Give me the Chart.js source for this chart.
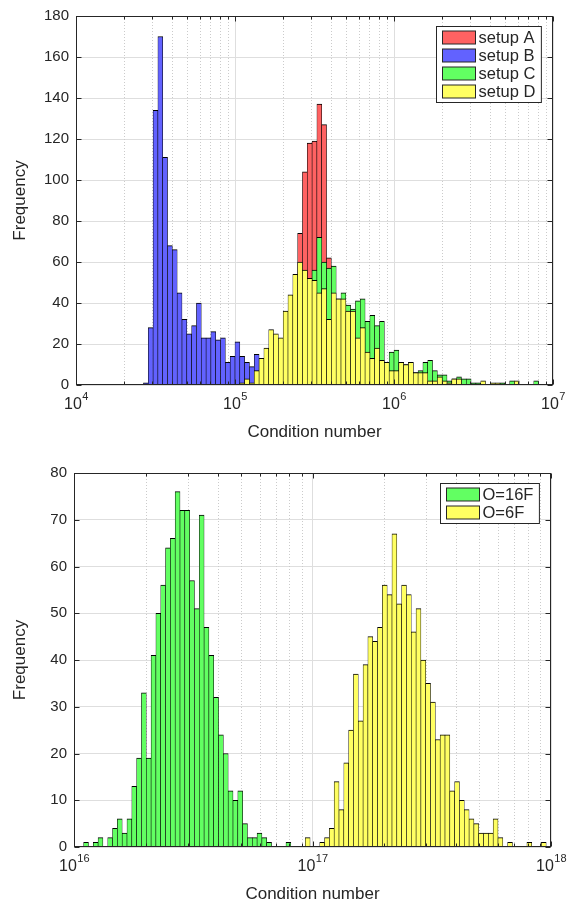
<!DOCTYPE html>
<html>
<head>
<meta charset="utf-8">
<script src="https://cdn.jsdelivr.net/npm/chart.js@4.4.1/dist/chart.umd.min.js"></script>
<style>
  body { margin: 0; background: #fff; }
  .panel { position: absolute; left: 0; width: 585px; height: 451px; }
  canvas { display: block; }
</style>
</head>
<body>
<div class="panel" style="top:0"><canvas id="topChart" width="585" height="451"></canvas></div>
<div class="panel" style="top:451px"><canvas id="bottomChart" width="585" height="451"></canvas></div>
<script>
// histogram: 99 equal bins in log10 space over each axis range
const binCount = 99;
const topDecades = [4, 7];
const bottomDecades = [16, 18];

// top panel, counts per bin, starting at the given bin index
const topLabels = ["setup A", "setup B", "setup C", "setup D"];
const setupAStart = 46;
const setupA = [74, 104, 118, 119, 137, 127, 62];
const setupBStart = 14;
const setupB = [1, 28, 134, 170, 111, 68, 66, 45, 32, 25, 29, 40, 23, 23, 26, 22, 23, 11, 14, 21, 14, 11, 9, 15];
const setupCStart = 49;
const setupC = [56, 72, 60, 57, 58, 42, 45, 39, 37, 41, 42, 31, 34, 29, 31, 11, 16, 17, 11, 10,
  11, 6, 7, 11, 12, 7, 5, 5, 2, 3, 4, 3, 3, 1, 1, 0, 0, 0, 0, 1, 0, 2, 0, 0, 0, 0, 2];
const setupDStart = 34;
const setupD = [1, 3, 1, 7, 13, 18, 27, 25, 23, 36, 44, 54, 60, 56, 52, 51, 45, 47, 32, 45,
  42, 42, 36, 36, 23, 28, 16, 13, 18, 12, 11, 7, 7, 11, 10, 11, 6, 6, 6, 2,
  2, 4, 2, 1, 3, 3, 0, 0, 0, 0, 2, 0, 1, 1, 0, 0, 0, 2];

// bottom panel
const bottomLabels = ["O=16F", "O=6F"];
const o16fStart = 2;
const o16f = [1, 0, 1, 2, 0, 2, 4, 6, 3, 6, 13, 19, 33, 19, 41, 50, 56, 64, 66, 76,
  72, 72, 57, 51, 71, 47, 41, 32, 24, 20, 12, 10, 12, 5, 2, 2, 3, 2, 1, 0, 0, 0, 1];
const o6fStart = 48;
const o6f = [2, 0, 0, 1, 2, 4, 14, 8, 18, 25, 37, 27, 39, 45, 44, 47, 56, 54, 67, 52,
  56, 54, 46, 51, 40, 35, 31, 23, 24, 24, 12, 14, 10, 8, 6, 5, 3, 3, 3, 6,
  2, 0, 1, 0, 0, 0, 1, 0, 0, 1];

const topYMax = 180, topYStep = 20;
const bottomYMax = 80, bottomYStep = 10;

const FONT = "'Liberation Sans', Arial, Helvetica, sans-serif";
const INK = "#262626";
const colors = { red: "#ff6262", blue: "#6262ff", green: "#62ff62", yellow: "#ffff62" };

Chart.defaults.font.family = FONT;
Chart.defaults.color = INK;

function binned(counts, start, decades) {
  const w = (decades[1] - decades[0]) / binCount;
  return counts.map((c, k) => ({ x: decades[0] + (start + k + 0.5) * w, y: c }));
}

function histSet(label, data, color, order) {
  return {
    label,
    data,
    order,
    backgroundColor: color,
    borderColor: "#000",
    borderWidth: { top: 1, left: 0.6, right: 0.6, bottom: 0 },
    borderSkipped: false,
    grouped: false,
    barPercentage: 1,
    categoryPercentage: 1,
  };
}

// MATLAB style frame: dotted minor grid, box, inward ticks, 10^n labels, legend
function matlabFrame(decades, xTitle) {
  return {
    id: "matlabFrame",
    beforeDatasetsDraw(chart) {
      const { ctx, chartArea: a, scales: { x } } = chart;
      ctx.save();
      ctx.strokeStyle = "#cbcbcb";
      ctx.lineWidth = 1;
      ctx.setLineDash([1, 2]);
      for (let d = decades[0]; d < decades[1]; d++) {
        for (let m = 2; m <= 9; m++) {
          const px = Math.round(x.getPixelForValue(d + Math.log10(m))) + 0.5;
          ctx.beginPath();
          ctx.moveTo(px, a.top);
          ctx.lineTo(px, a.bottom);
          ctx.stroke();
        }
      }
      ctx.restore();
    },
    afterDatasetsDraw(chart) {
      const { ctx, chartArea: a, scales: { x, y } } = chart;
      ctx.save();
      ctx.strokeStyle = INK;
      ctx.lineWidth = 1;
      const L = Math.round(a.left) + 0.5, R = Math.round(a.right) - 0.5;
      const T = Math.round(a.top) + 0.5, B = Math.round(a.bottom) - 0.5;
      ctx.strokeRect(L, T, R - L, B - T);

      ctx.beginPath();
      y.ticks.forEach(t => {
        const py = Math.round(y.getPixelForValue(t.value)) + 0.5;
        ctx.moveTo(L, py); ctx.lineTo(L + 5, py);
        ctx.moveTo(R, py); ctx.lineTo(R - 5, py);
      });
      for (let d = decades[0]; d <= decades[1]; d++) {
        const px = Math.round(x.getPixelForValue(d)) + 0.5;
        ctx.moveTo(px, B); ctx.lineTo(px, B - 5);
        ctx.moveTo(px, T); ctx.lineTo(px, T + 5);
        if (d === decades[1]) break;
        for (let m = 2; m <= 9; m++) {
          const pm = Math.round(x.getPixelForValue(d + Math.log10(m))) + 0.5;
          ctx.moveTo(pm, B); ctx.lineTo(pm, B - 3);
          ctx.moveTo(pm, T); ctx.lineTo(pm, T + 3);
        }
      }
      ctx.stroke();

      // x tick labels 10^n
      ctx.fillStyle = INK;
      ctx.textBaseline = "alphabetic";
      ctx.textAlign = "left";
      for (let d = decades[0]; d <= decades[1]; d++) {
        const px = x.getPixelForValue(d);
        ctx.font = "16px " + FONT;
        const wBase = ctx.measureText("10").width;
        ctx.font = "11px " + FONT;
        const exp = String(d);
        const wExp = ctx.measureText(exp).width;
        const x0 = px - (wBase + wExp) / 2;
        ctx.font = "16px " + FONT;
        ctx.fillText("10", x0, a.bottom + 24);
        ctx.font = "11px " + FONT;
        ctx.fillText(exp, x0 + wBase + 0.5, a.bottom + 15);
      }
      ctx.font = "17px " + FONT;
      ctx.textAlign = "center";
      ctx.fillText(xTitle, (a.left + a.right) / 2, a.bottom + 52);

      // legend, inside the top right corner
      const sets = chart.data.datasets;
      ctx.font = "16.5px " + FONT;
      const textW = Math.max(...sets.map(s => ctx.measureText(s.label).width));
      const rowH = 18;
      const boxW = 6 + 33 + 3 + textW + 6;
      const boxH = sets.length * rowH + 4;
      const bx = Math.round(a.right - 12 - boxW) + 0.5;
      const by = Math.round(a.top + 10) + 0.5;
      ctx.fillStyle = "#fff";
      ctx.fillRect(bx, by, boxW, boxH);
      ctx.strokeRect(bx, by, boxW, boxH);
      ctx.textAlign = "left";
      ctx.textBaseline = "middle";
      sets.forEach((s, i) => {
        const cy = by + 2 + rowH / 2 + i * rowH;
        ctx.fillStyle = s.backgroundColor;
        ctx.fillRect(bx + 6, Math.round(cy - 6.5), 33, 13);
        ctx.strokeRect(bx + 6, Math.round(cy - 6.5), 33, 13);
        ctx.fillStyle = INK;
        ctx.fillText(s.label, bx + 6 + 33 + 3, cy + 1);
      });
      ctx.restore();
    },
  };
}

function makeHist(canvasId, datasets, decades, yMax, yStep, area) {
  return new Chart(document.getElementById(canvasId), {
    type: "bar",
    data: { datasets },
    options: {
      responsive: false,
      animation: false,
      layout: { padding: { top: area.top, right: area.right, left: 0, bottom: 0 } },
      plugins: { legend: { display: false }, tooltip: { enabled: false } },
      scales: {
        x: {
          type: "linear",
          min: decades[0],
          max: decades[1],
          offset: false,
          ticks: { display: false, stepSize: 1 },
          grid: { color: "#dedede", drawTicks: false, offset: false },
          border: { display: false },
          afterFit: s => { s.height = area.xHeight; },
        },
        y: {
          min: 0,
          max: yMax,
          ticks: { stepSize: yStep, padding: 7, color: INK, font: { size: 15 } },
          grid: { color: "#dedede", drawTicks: false },
          border: { display: false },
          title: { display: true, text: "Frequency", color: INK, font: { size: 17 }, padding: { top: 10, bottom: 0 } },
          afterFit: s => { s.width = area.left; },
        },
      },
    },
    plugins: [matlabFrame(decades, "Condition number")],
  });
}

makeHist("topChart", [
  histSet(topLabels[0], binned(setupA, setupAStart, topDecades), colors.red, 4),
  histSet(topLabels[1], binned(setupB, setupBStart, topDecades), colors.blue, 3),
  histSet(topLabels[2], binned(setupC, setupCStart, topDecades), colors.green, 2),
  histSet(topLabels[3], binned(setupD, setupDStart, topDecades), colors.yellow, 1),
], topDecades, topYMax, topYStep, { left: 76, right: 32, top: 12, xHeight: 66 });

makeHist("bottomChart", [
  histSet(bottomLabels[0], binned(o16f, o16fStart, bottomDecades), colors.green, 2),
  histSet(bottomLabels[1], binned(o6f, o6fStart, bottomDecades), colors.yellow, 1),
], bottomDecades, bottomYMax, bottomYStep, { left: 74, right: 34, top: 22, xHeight: 55 });
</script>
</body>
</html>
